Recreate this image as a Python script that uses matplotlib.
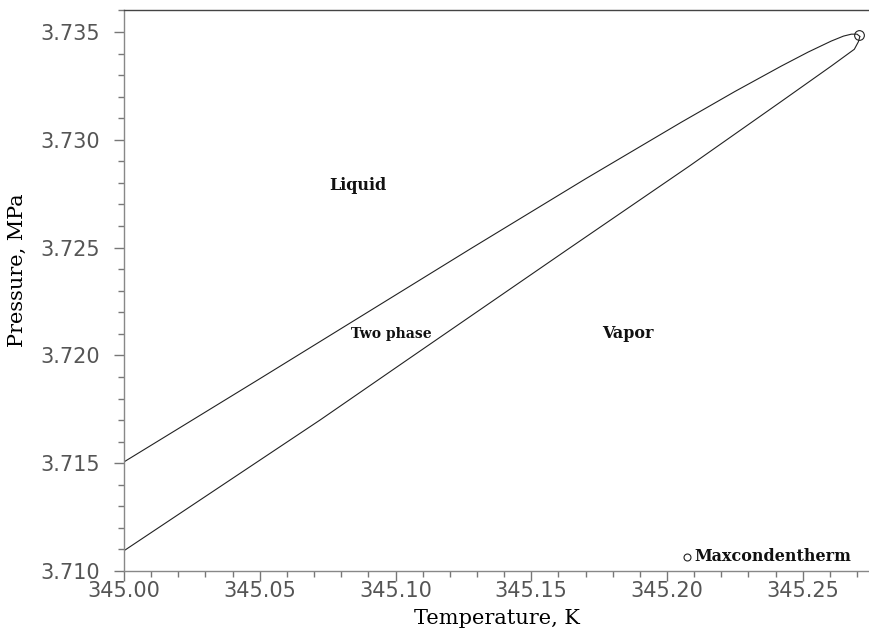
import matplotlib
matplotlib.use('Agg')
import matplotlib.pyplot as plt
from matplotlib.ticker import MultipleLocator, FormatStrFormatter

# Phase envelope
bubble_T = [345.000, 345.0494, 345.1277, 345.1700, 345.2052, 345.2250, 345.2421,
            345.2520, 345.2605, 345.2650, 345.2679, 345.2700, 345.2710]
bubble_P = [3.71506, 3.71887, 3.72495, 3.72819, 3.73081, 3.73224, 3.73342,
            3.73407, 3.73458, 3.73481, 3.73490, 3.73490, 3.73480]
dew_T = [345.000, 345.0723, 345.1044, 345.1638, 345.2081, 345.2421, 345.2605,
         345.2690, 345.2705, 345.2710]
dew_P = [3.71094, 3.71701, 3.71980, 3.72495, 3.72877, 3.73178, 3.73342,
         3.73420, 3.73455, 3.73478]

maxcond_T = 345.2707
maxcond_P = 3.73484

region_labels = ['Liquid', 'Two phase', 'Vapor']
region_T = [345.0863, 345.0985, 345.1856]
region_P = [3.72787, 3.72100, 3.72100]
region_size = [11.5, 10, 11.5]

legend_T = 345.2074
legend_P = 3.71065

fig = plt.figure(figsize=(8.69, 6.34), dpi=100)
ax = fig.add_axes([0.1427, 0.0994, 0.8573, 0.8848])

ax.plot(bubble_T, bubble_P, color='#222222', linewidth=0.8)
ax.plot(dew_T, dew_P, color='#222222', linewidth=0.8)
ax.plot([maxcond_T], [maxcond_P], marker='o', markersize=7, markerfacecolor='none',
        markeredgecolor='#222222', markeredgewidth=0.8, linestyle='none')

for lab, t, p, s in zip(region_labels, region_T, region_P, region_size):
    ax.text(t, p, lab, ha='center', va='center', fontsize=s,
            fontweight='bold', family='DejaVu Serif', color='#111111')

# marker + text for the maxcondentherm point
ax.plot([legend_T], [legend_P], marker='o', markersize=5, markerfacecolor='none',
        markeredgecolor='#222222', markeredgewidth=0.8, linestyle='none', clip_on=False)
ax.text(legend_T + 0.0028, legend_P, 'Maxcondentherm', ha='left', va='center',
        fontsize=11.5, fontweight='bold', family='DejaVu Serif', color='#111111')

ax.set_xlim(345.0, 345.2744)
ax.set_ylim(3.710, 3.73602)

ax.xaxis.set_major_locator(MultipleLocator(0.05))
ax.xaxis.set_minor_locator(MultipleLocator(0.01))
ax.yaxis.set_major_locator(MultipleLocator(0.005))
ax.yaxis.set_minor_locator(MultipleLocator(0.001))
ax.xaxis.set_major_formatter(FormatStrFormatter('%.2f'))
ax.yaxis.set_major_formatter(FormatStrFormatter('%.3f'))

ax.tick_params(which='major', direction='out', length=7, width=1, color='#777777',
               labelsize=15, labelcolor='#555555')
ax.tick_params(which='minor', direction='out', length=4.5, width=1, color='#777777')
ax.tick_params(axis='x', which='major', pad=0)
ax.tick_params(axis='y', which='major', pad=10)

ax.spines['right'].set_visible(False)
ax.spines['left'].set_color('#888888')
ax.spines['bottom'].set_color('#888888')
ax.spines['top'].set_color('#444444')
for s in ['left', 'bottom', 'top']:
    ax.spines[s].set_linewidth(1)

ax.set_xlabel('Temperature, K', fontsize=15, family='DejaVu Serif', labelpad=6)
ax.set_ylabel('Pressure, MPa', fontsize=15, family='DejaVu Serif')
ax.yaxis.set_label_coords(-0.131, 0.537)

plt.savefig('out.png', dpi=100)
plt.close(fig)
